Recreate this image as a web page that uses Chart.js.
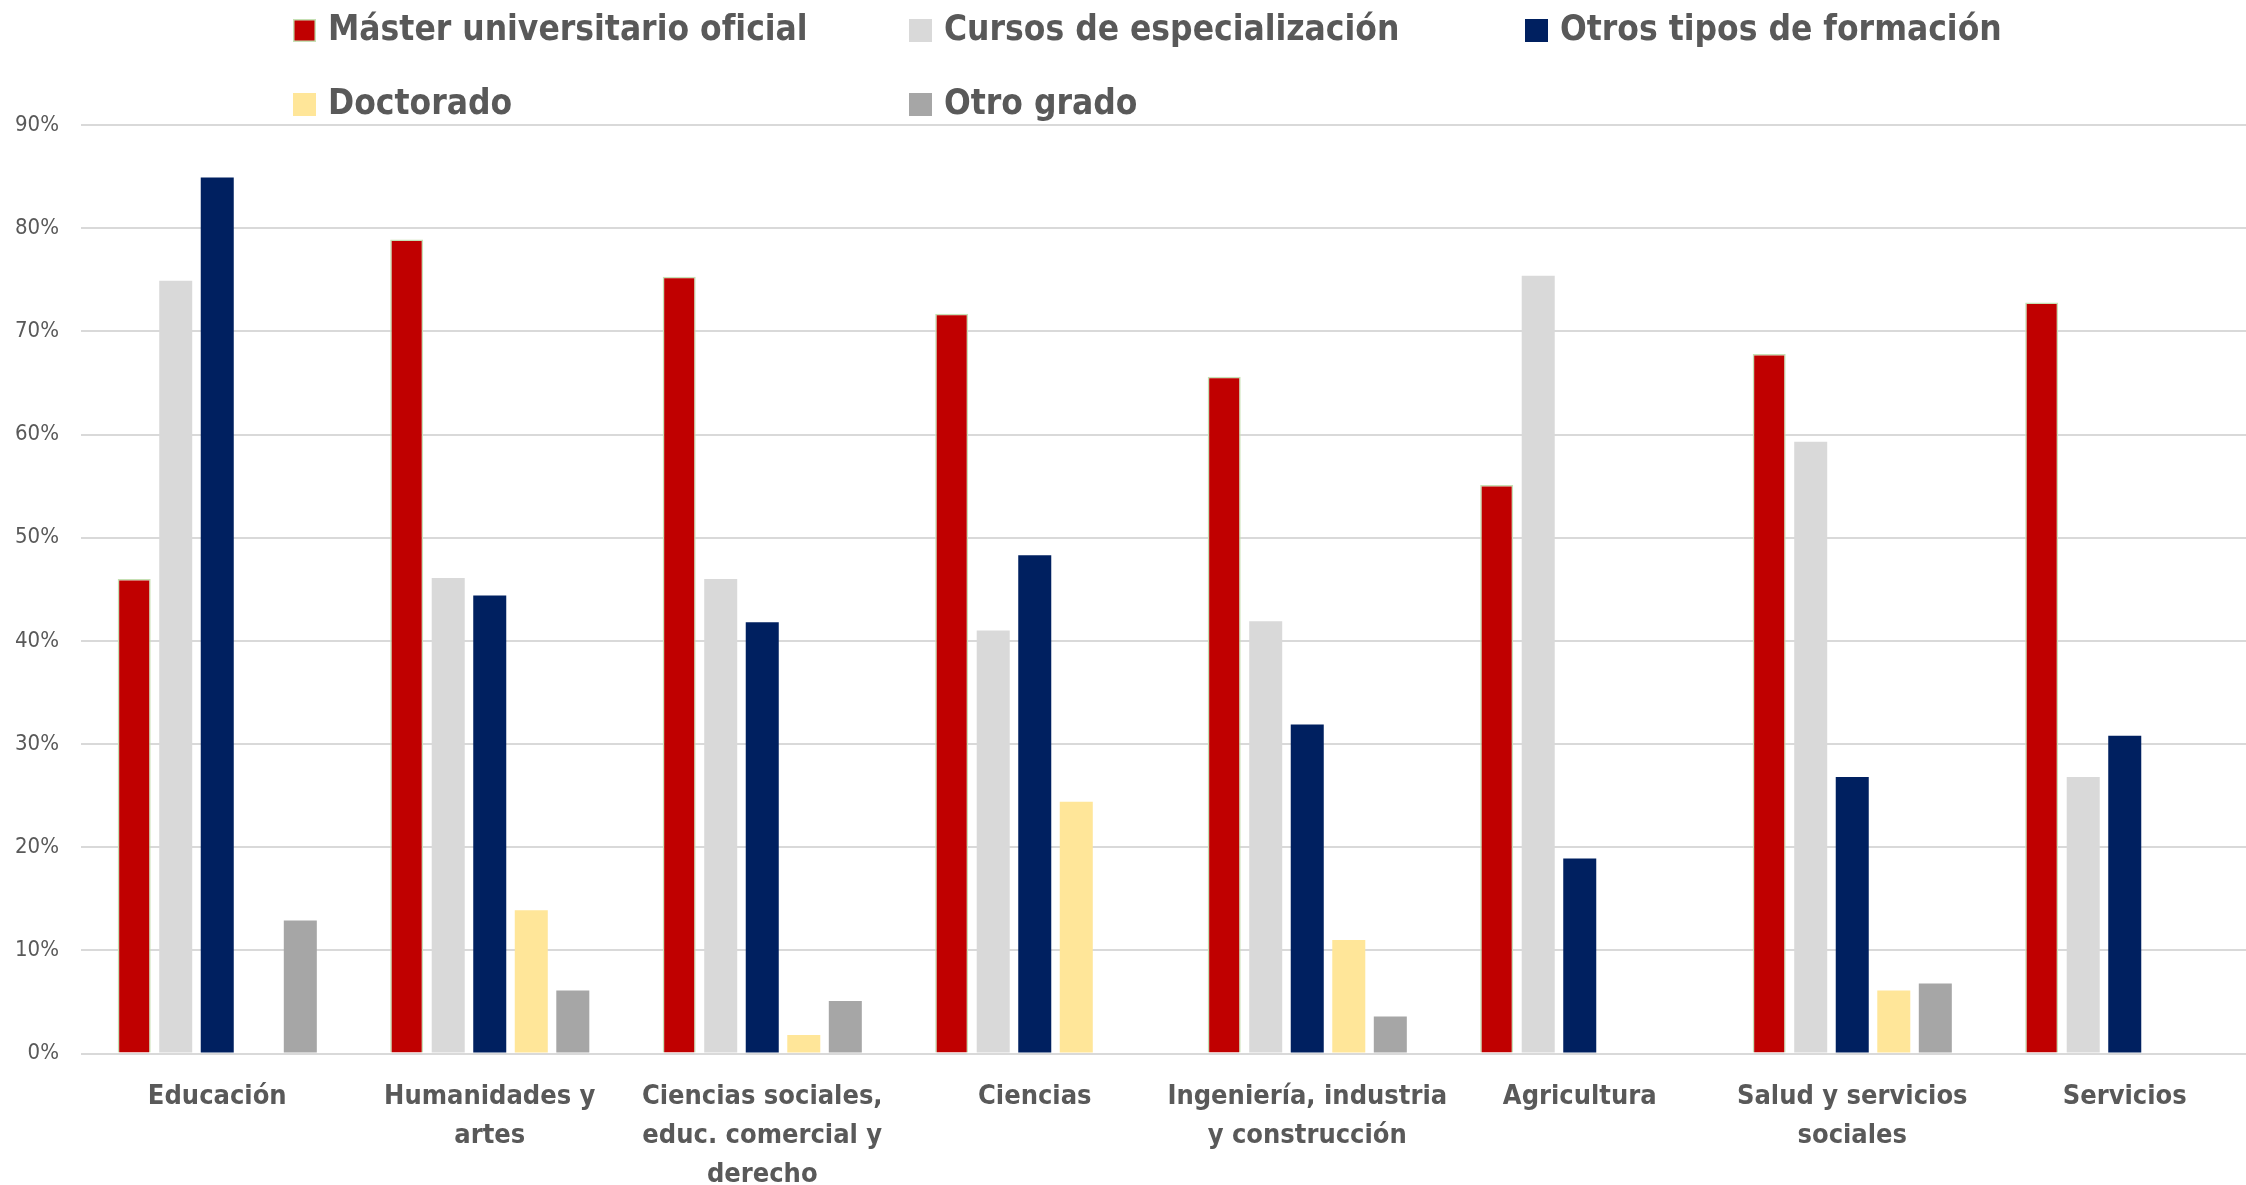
<!DOCTYPE html>
<html lang="es">
<head>
<meta charset="UTF-8">
<title>Formación por rama</title>
<script src="https://cdn.jsdelivr.net/npm/chart.js@4.4.0/dist/chart.umd.min.js"></script>
<style>
  body { margin: 0; background: #fff; overflow: hidden; }
  /* el área del gráfico sobresale un poco por la derecha, como en el original */
  #wrap { width: 2261px; height: 1185px; }
</style>
</head>
<body>
<div id="wrap"><canvas id="grafico"></canvas></div>
<script>
// categorías (ramas de conocimiento)
const ramas = [
  ['Educación'],
  ['Humanidades y', 'artes'],
  ['Ciencias sociales,', 'educ. comercial y', 'derecho'],
  ['Ciencias'],
  ['Ingeniería, industria', 'y construcción'],
  ['Agricultura'],
  ['Salud y servicios', 'sociales'],
  ['Servicios']
];

// series (%)
const master     = [46.0, 78.9, 75.3, 71.7, 65.6, 55.1, 67.8, 72.8];
const cursos     = [74.9, 46.1, 46.0, 41.0, 41.9, 75.4, 59.3, 26.8];
const otros      = [84.9, 44.4, 41.8, 48.3, 31.9, 18.9, 26.8, 30.8];
const doctorado  = [0, 13.9, 1.8, 24.4, 11.0, 0, 6.1, 0];
const otroGrado  = [12.9, 6.1, 5.1, 0, 3.6, 0, 6.8, 0];

const ticksY = [0, 10, 20, 30, 40, 50, 60, 70, 80, 90];

const fuente = '"Liberation Sans Narrow", "DejaVu Sans Condensed", "Open Sans", sans-serif';
const gris = '#595959';

// leyenda propia: dos filas alineadas en columnas como en el original
const leyendaPos = [
  { x: 293, y: 30 }, { x: 909, y: 30 }, { x: 1525, y: 30 },
  { x: 293, y: 104 }, { x: 909, y: 104 }
];
const leyendaPlugin = {
  id: 'leyendaPropia',
  afterDraw(chart) {
    const ctx = chart.ctx;
    ctx.save();
    chart.data.datasets.forEach((ds, i) => {
      const p = leyendaPos[i];
      ctx.fillStyle = ds.backgroundColor;
      ctx.fillRect(p.x, p.y - 11, 23, 23);
      if (ds.borderWidth) {
        ctx.strokeStyle = ds.borderColor;
        ctx.lineWidth = 1.5;
        ctx.strokeRect(p.x + 0.75, p.y - 10.25, 21.5, 21.5);
      }
      ctx.fillStyle = gris;
      ctx.font = 'bold 35px ' + fuente;
      ctx.textBaseline = 'middle';
      ctx.fillText(ds.label, p.x + 35, p.y + 1);
    });
    ctx.restore();
  }
};

const ctx = document.getElementById('grafico').getContext('2d');
const grafico = new Chart(ctx, {
  type: 'bar',
  data: {
    labels: ramas,
    datasets: [
      { label: 'Máster universitario oficial', data: master, backgroundColor: '#C00000', borderColor: '#C5E0B4', borderWidth: 1.5 },
      { label: 'Cursos de especialización', data: cursos, backgroundColor: '#D9D9D9', borderWidth: 0 },
      { label: 'Otros tipos de formación', data: otros, backgroundColor: '#002060', borderWidth: 0 },
      { label: 'Doctorado', data: doctorado, backgroundColor: '#FFE699', borderWidth: 0 },
      { label: 'Otro grado', data: otroGrado, backgroundColor: '#A6A6A6', borderWidth: 0 }
    ]
  },
  options: {
    responsive: true,
    maintainAspectRatio: false,
    animation: false,
    datasets: { bar: { categoryPercentage: 0.762, barPercentage: 0.795 } },
    layout: { padding: { top: 125, right: 0, bottom: -26, left: 0 } },
    plugins: {
      legend: { display: false },
      tooltip: { enabled: false }
    },
    scales: {
      x: {
        grid: { display: false },
        border: { display: false },
        ticks: {
          color: gris,
          font: { family: fuente, size: 27, weight: 'bold', lineHeight: 1.45 },
          maxRotation: 0,
          autoSkip: false,
          padding: 16
        }
      },
      y: {
        min: 0,
        max: 90,
        afterFit(scale) { scale.width = 81; },
        afterBuildTicks(scale) { scale.ticks = ticksY.map(v => ({ value: v })); },
        grid: { color: '#D9D9D9', lineWidth: 2, drawTicks: false },
        border: { display: false },
        ticks: {
          color: gris,
          font: { family: fuente, size: 22 },
          padding: 22,
          callback: v => v + '%'
        }
      }
    }
  },
  plugins: [leyendaPlugin]
});
</script>
</body>
</html>
